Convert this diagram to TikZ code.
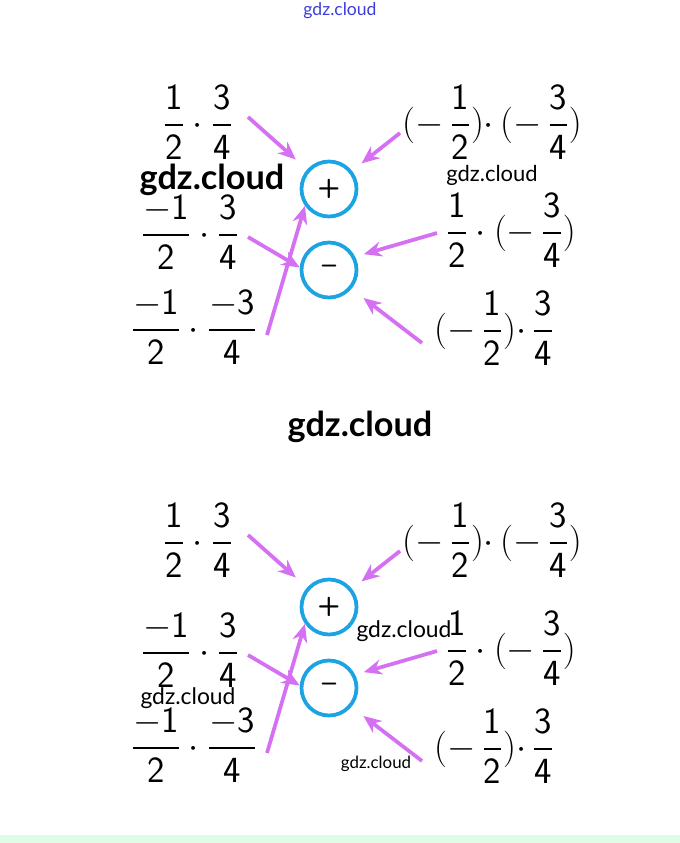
\documentclass[tikz,border=0pt]{standalone}
\usepackage{amsmath}
\usepackage{fontspec}
\newfontfamily\wmfont{Lato}
\usetikzlibrary{arrows.meta,positioning,calc}

\definecolor{ringblue}{RGB}{27,163,228}
\definecolor{arrowpink}{RGB}{213,112,242}
\definecolor{bandgreen}{RGB}{222,252,232}
\definecolor{wmblue}{RGB}{60,60,220}

\newcommand{\fr}[2]{\dfrac{\mathsf{#1}}{\mathsf{#2}}}
\newcommand{\tdot}{\mathord{\cdot}\,}

\begin{document}
\begin{tikzpicture}[
    x=0.02cm, y=-0.02cm,
    >={Stealth[length=0.36cm,width=0.3cm]},
    every node/.style={font=\fontsize{21}{25}\selectfont},
    ring/.style={circle,draw=ringblue,line width=0.075cm,minimum size=1.1cm,
      inner sep=0pt,font=\sffamily\bfseries\fontsize{15}{15}\selectfont},
    arr/.style={->,arrowpink,line width=0.075cm},
    wm/.style={font=\wmfont\fontsize{#1}{#1}\selectfont},
    wmb/.style={font=\wmfont\bfseries\fontsize{#1}{#1}\selectfont}
  ]

  \useasboundingbox (0,0) rectangle (680,843);
  \fill[bandgreen] (0,835) rectangle (680,843);

  % The same scheme twice ------------------------------------
  \foreach \dy/\k in {0/a,418/b} {
    \begin{scope}[shift={(0,\dy)}]
      % products
      \node (e1\k) at (198,122) {$\fr{1}{2}\cdot\fr{3}{4}$};
      \node (e2\k) at (492,122) {$(-\,\fr{1}{2})\tdot(-\,\fr{3}{4})$};
      \node (e3\k) at (190,232) {$\fr{-1}{2}\cdot\fr{3}{4}$};
      \node (e4\k) at (511,230) {$\fr{1}{2}\cdot(-\,\fr{3}{4})$};
      \node (e5\k) at (194,327) {$\fr{-1}{2}\cdot\fr{-3}{4}$};
      \node (e6\k) at (494,328) {$(-\,\fr{1}{2})\tdot\fr{3}{4}$};

      % signs
      \node[ring] (p\k) at (329,189) {+};
      \node[ring] (m\k) at (329,270) {\raisebox{0.5pt}{--}};

      % tails of the arrows
      \coordinate (s1\k) at (248,117);
      \coordinate (s2\k) at (400,133);
      \coordinate (s3\k) at (248,237);
      \coordinate (s4\k) at (267,335);
      \coordinate (s5\k) at (437,233);
      \coordinate (s6\k) at (422,343);

      \draw[arr,shorten >=0.3cm]  (s1\k) -- (p\k);
      \draw[arr,shorten >=0.24cm] (s2\k) -- (p\k);
      \draw[arr]                  (s3\k) -- (m\k.175);
      \draw[arr]                  (s4\k) -- (p\k.215);
      \draw[arr,shorten >=0.18cm] (s5\k) -- (m\k.27);
      \draw[arr,shorten >=0.3cm]  (s6\k) -- (m\k.320);
    \end{scope}
  }

  % Watermarks -----------------------------------------------
  \node[wm=10,wmblue]  (w0) at (340,11)  {gdz.cloud};
  \node[wmb=19.5]      (w1) at (212,180) {gdz.cloud};
  \node[wm=12.5]       (w2) at (492,175) {gdz.cloud};
  \node[wmb=19.5]      (w3) at (360,427) {gdz.cloud};
  \node[wm=13]         (w4) at (404,631) {gdz.cloud};
  \node[wm=13]         (w5) at (188,698) {gdz.cloud};
  \node[wm=9.6]        (w6) at (376,764) {gdz.cloud};

\end{tikzpicture}
\end{document}
